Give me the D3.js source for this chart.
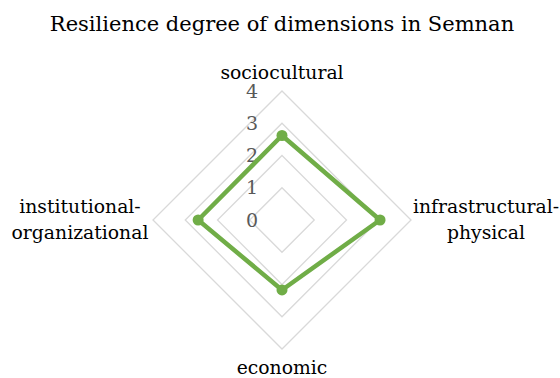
<!DOCTYPE html>
<html>
<head>
<meta charset="utf-8">
<script src="https://cdn.jsdelivr.net/npm/d3@7"></script>
<style>
  body { margin: 0; background: #fff; }
</style>
</head>
<body>
<script>
var width = 560,
    height = 378;

var title = "Resilience degree of dimensions in Semnan";
var dimensions = ["sociocultural", "infrastructural-physical", "economic", "institutional-organizational"];
var labelLines = [["sociocultural"], ["infrastructural-", "physical"], ["economic"], ["institutional-", "organizational"]];
var values = [2.62, 3.04, 2.17, 2.6];
var ticks = [0, 1, 2, 3, 4];

var cx = 282, cy = 220, radius = 129;
var serif = "'DejaVu Serif', serif";

var svg = d3.select("body").append("svg")
    .attr("width", width)
    .attr("height", height)
    .attr("font-family", serif);

var r = d3.scaleLinear().domain([0, 4]).range([0, radius]);
var angle = d3.scaleBand().domain(dimensions).range([0, 2 * Math.PI]).paddingInner(0).paddingOuter(0);

function pt(dim, v) {
    var a = angle(dim);
    return [cx + r(v) * Math.sin(a), cy - r(v) * Math.cos(a)];
}

svg.append("text")
    .attr("x", cx)
    .attr("y", 30.5)
    .attr("text-anchor", "middle")
    .style("font-size", "21px")
    .style("fill", "#000")
    .text(title);

// grid rings
svg.selectAll(".ring")
    .data(ticks.slice(1))
    .enter().append("polygon")
    .attr("class", "ring")
    .attr("points", function (t) {
        return dimensions.map(function (d) { return pt(d, t).join(","); }).join(" ");
    })
    .attr("fill", "none")
    .attr("stroke", "#d9d9d9")
    .attr("stroke-width", 1.3);

// tick labels
svg.selectAll(".tick")
    .data(ticks)
    .enter().append("text")
    .attr("class", "tick")
    .attr("x", cx - 24)
    .attr("y", function (t) { return cy - r(t); })
    .attr("dy", "0.35em")
    .attr("text-anchor", "end")
    .style("font-size", "19px")
    .style("fill", "#595959")
    .text(function (t) { return t; });

// axis labels
var labelPos = [[cx, 78.5], [486, 213], [cx, 374], [80, 213]];
labelLines.forEach(function (lines, i) {
    var t = svg.append("text")
        .attr("text-anchor", "middle")
        .style("font-size", "18.8px")
        .style("fill", "#000");
    lines.forEach(function (s, j) {
        t.append("tspan")
            .attr("x", labelPos[i][0])
            .attr("y", labelPos[i][1] + j * 26)
            .text(s);
    });
});

// series
var line = d3.line().curve(d3.curveLinearClosed);
svg.append("path")
    .datum(dimensions.map(function (d, i) { return pt(d, values[i]); }))
    .attr("d", line)
    .attr("fill", "none")
    .attr("stroke", "#70ad47")
    .attr("stroke-width", 4.5)
    .attr("stroke-linejoin", "round");

svg.selectAll(".dot")
    .data(values)
    .enter().append("circle")
    .attr("class", "dot")
    .attr("cx", function (v, i) { return pt(dimensions[i], v)[0]; })
    .attr("cy", function (v, i) { return pt(dimensions[i], v)[1]; })
    .attr("r", 5.5)
    .attr("fill", "#70ad47");
</script>
</body>
</html>
